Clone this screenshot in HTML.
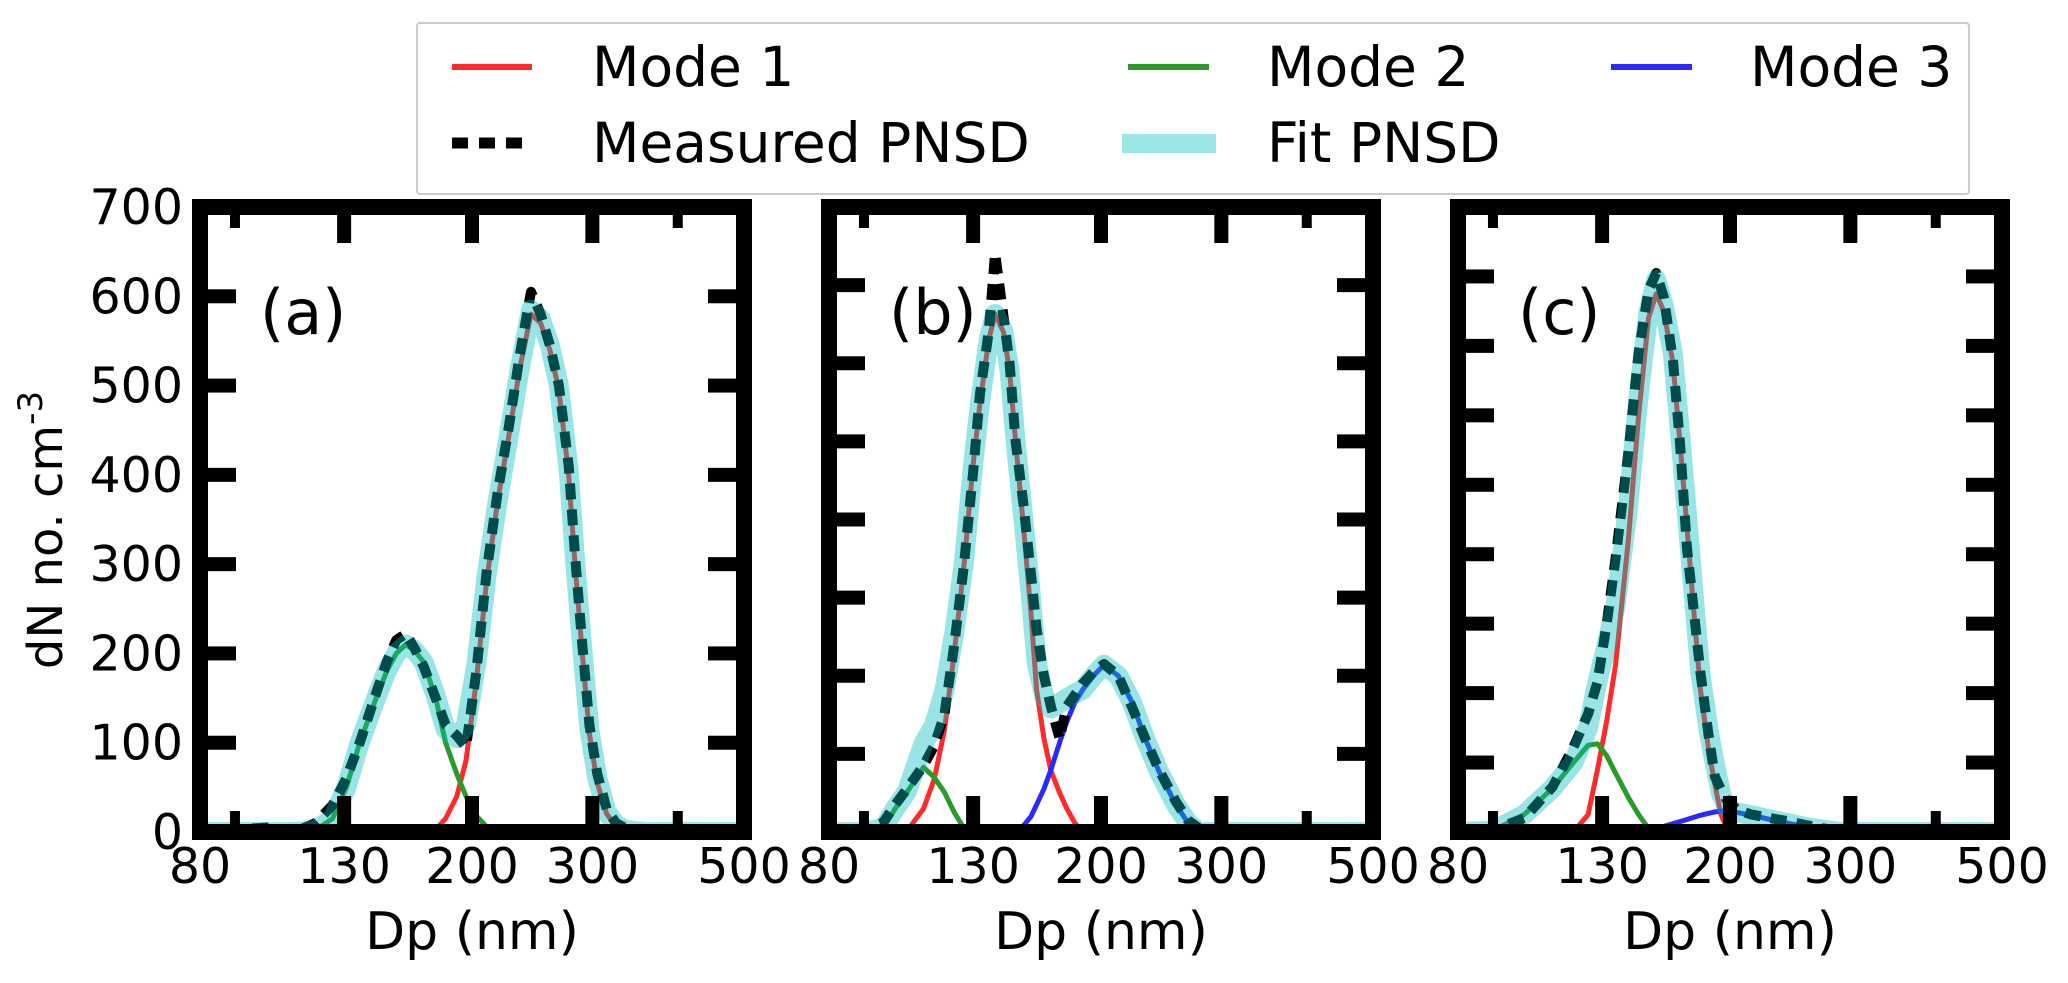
<!DOCTYPE html>
<html><head><meta charset="utf-8"><style>
html,body{margin:0;padding:0;background:#fff;}
svg{display:block;font-family:"DejaVu Sans","Liberation Sans",sans-serif;}
</style></head><body>
<svg id="chart" width="2068" height="983" viewBox="0 0 2068 983" xmlns="http://www.w3.org/2000/svg">
<rect x="0" y="0" width="2068" height="983" fill="#fff"/>
<g id="legend">
  <rect x="417" y="23" width="1552" height="171" fill="#fff" stroke="#cccccc" stroke-width="2" rx="3"/>
  <g>
    <line x1="452" y1="67" x2="532" y2="67" stroke="#ff2a2a" stroke-width="6"/>
    <text x="592" y="86" font-size="55">Mode 1</text>
  </g>
  <g>
    <line x1="1128" y1="67" x2="1209" y2="67" stroke="#2a9a2a" stroke-width="6"/>
    <text x="1267" y="86" font-size="55">Mode 2</text>
  </g>
  <g>
    <line x1="1611" y1="67" x2="1692" y2="67" stroke="#2a2aff" stroke-width="6"/>
    <text x="1750" y="86" font-size="55">Mode 3</text>
  </g>
  <g>
    <line x1="452" y1="143" x2="532" y2="143" stroke="#000" stroke-width="11" stroke-dasharray="16 11"/>
    <text x="592" y="162" font-size="55">Measured PNSD</text>
  </g>
  <g>
    <rect x="1122" y="134" width="94" height="19" fill="#9be6e6"/>
    <text x="1267" y="162" font-size="55">Fit PNSD</text>
  </g>
</g>
<text transform="translate(62,530) rotate(-90)" text-anchor="middle" font-size="48">dN no. cm<tspan font-size="34" dy="-20">-3</tspan></text>
<g id="panels"></g>
</svg>
<script>
// ---- data (panel a) ----
const dpA = [80,100,110,118,125,131,137,144,150,155,160,165,170,177,183,190,196,203,210,218,226,235,244,252,260,268,277,283,290,297,305,315,325,336,360,400,500];
const mode1A = [0,0,0,0,0,0,0,0,0,0,0,0,0,3,15,40,80,170,280,370,440,520,580,570,540,495,400,300,200,110,55,20,6,0,0,0,0];
const mode2A = [0,0,0,2,15,50,100,145,180,200,210,203,190,150,100,65,40,18,6,0,0,0,0,0,0,0,0,0,0,0,0,0,0,0,0,0,0];
const fitA = [0,0,0,2,15,50,100,145,180,200,210,203,190,153,115,105,120,188,286,370,440,520,585,575,545,500,405,305,205,115,60,22,8,2,0,0,0];
const measA = [0,5,0,10,30,60,100,150,190,215,222,205,185,150,120,108,95,180,290,380,450,535,605,580,545,500,410,310,210,120,65,25,10,4,0,0,0];
// ---- data (panel b) ----
const dpB = [80,90,96,100,104,110,114,118,122,126,130,133,137,140,144,147,150,154,158,161,165,169,174,178,183,188,195,202,212,222,232,243,257,268,278,290,350,500];
const mode1B = [0,0,0,0,1,30,67,130,230,339,470,548,630,663,640,590,500,392,280,182,120,78,50,31,12,0,0,0,0,0,0,0,0,0,0,0,0,0];
const mode2B = [0,0,5,30,51,83,70,51,25,5,0,0,0,0,0,0,0,0,0,0,0,0,0,0,0,0,0,0,0,0,0,0,0,0,0,0,0,0];
const mode3B = [0,0,0,0,0,0,0,0,0,0,0,0,0,0,0,0,0,8,20,35,55,80,115,140,165,182,200,214,200,166,120,78,36,12,0,0,0,0];
const fitB = [0,0,5,30,52,113,137,181,255,344,470,548,630,663,640,590,500,400,300,217,175,158,165,171,177,182,200,214,200,166,120,78,36,12,0,0,0,0];
const measB = [0,3,12,35,55,85,110,150,240,340,460,560,640,741,660,600,500,420,330,260,200,160,119,160,175,190,205,215,200,160,120,80,40,15,5,0,0,0];
// ---- data (panel c) ----
const dpC = [80,90,100,110,118,124,128,132,136,142,147,152,156,160,165,169,173,177,181,186,190,194,198,205,215,229,245,258,275,290,350,500];
const mode1C = [0,0,0,0,0,25,90,160,240,420,600,740,775,750,676,560,440,320,205,120,69,25,5,0,0,0,0,0,0,0,0,0];
const mode2C = [0,2,25,63,100,125,127,110,85,50,25,5,0,0,0,0,0,0,0,0,0,0,0,0,0,0,0,0,0,0,0,0];
const mode3C = [0,0,0,0,0,0,0,0,0,0,2,4,6,8,12,15,18,21,24,27,29,30,30,28,24,18,12,7,3,0,0,0];
const fitC = [0,2,25,63,100,150,217,270,325,470,627,749,795,758,688,575,458,341,229,147,98,55,35,28,24,18,12,7,3,0,0,0];
const measC = [0,3,20,65,122,170,216,300,393,546,690,780,805,770,680,560,410,320,230,140,80,61,45,32,25,20,15,10,5,0,0,0];
// ---- axes config ----
const xTickVals = [80,130,200,300,500];
const xMinorVals = [90,400];
const yMaxA = 700, yMaxB = 800, yMaxC = 900;
const yTickLabelsA = [0,100,200,300,400,500,600,700];
const panelLabels = ['(a)','(b)','(c)'];

const NS = 'http://www.w3.org/2000/svg';
const root = document.getElementById('panels');
function mk(tag, attrs, parent){ const e=document.createElementNS(NS,tag); for(const k in attrs) e.setAttribute(k,attrs[k]); (parent||root).appendChild(e); return e; }

const panels = [
  {L:200, dp:dpA, m1:mode1A, m2:mode2A, m3:null, fit:fitA, meas:measA, ymax:yMaxA, name:'a'},
  {L:829, dp:dpB, m1:mode1B, m2:mode2B, m3:mode3B, fit:fitB, meas:measB, ymax:yMaxB, name:'b'},
  {L:1458, dp:dpC, m1:mode1C, m2:mode2C, m3:mode3C, fit:fitC, meas:measC, ymax:yMaxC, name:'c'}
];
const W = 544, T = 207, B = 832;

panels.forEach((p, pi) => {
  const g = mk('g', {});
  
  
  const xs = v => p.L + W * Math.log(v/80) / Math.log(500/80);
  const ys = v => B - (B - T) * v / p.ymax;
  const cid = 'clip' + pi;
  const cp = mk('clipPath', {id: cid}, g);
  mk('rect', {x: p.L, y: T, width: W, height: B - T}, cp);
  const plot = mk('g', {'clip-path': 'url(#' + cid + ')'}, g);
  function path(vals, stroke, sw, extra, name){
    const d = p.dp.map((x,i) => (i ? 'L' : 'M') + xs(x).toFixed(1) + ' ' + ys(vals[i]).toFixed(1)).join(' ');
    const e = mk('path', Object.assign({d: d, fill: 'none', stroke: stroke, 'stroke-width': sw, 'stroke-linejoin': 'round'}, extra || {}), plot);
    
    
  }
  path(p.m1, '#ff2a2a', 5, null, 'mode-1-line-' + p.name);
  path(p.m2, '#2a9a2a', 5, null, 'mode-2-line-' + p.name);
  if (p.m3) path(p.m3, '#2a2aff', 5, null, 'mode-3-line-' + p.name);
  path(p.meas, '#000', 10, {'stroke-dasharray': '16 10'}, 'measured-pnsd-line-' + p.name);
  path(p.fit, 'rgba(0,190,190,0.4)', 20, {'stroke-linecap': 'round'}, 'fit-pnsd-line-' + p.name);
  for (let v = 100; v < p.ymax; v += 100) {
    const y = ys(v);
    mk('rect', {x: p.L + 8, y: y - 7, width: 28, height: 14, fill: '#000'}, g);
    mk('rect', {x: p.L + W - 36, y: y - 7, width: 28, height: 14, fill: '#000'}, g);
  }
  xTickVals.slice(1, -1).forEach(v => {
    const x = xs(v);
    mk('rect', {x: x - 7, y: T + 8, width: 14, height: 28, fill: '#000'}, g);
    mk('rect', {x: x - 7, y: B - 36, width: 14, height: 28, fill: '#000'}, g);
  });
  xMinorVals.forEach(v => {
    const x = xs(v);
    mk('rect', {x: x - 5, y: T + 8, width: 10, height: 13, fill: '#000'}, g);
    mk('rect', {x: x - 5, y: B - 21, width: 10, height: 13, fill: '#000'}, g);
  });
  const sp = mk('rect', {x: p.L, y: T, width: W, height: B - T, fill: 'none', stroke: '#000', 'stroke-width': 16}, g);
  
  
  xTickVals.forEach(v => {
    const t = mk('text', {x: xs(v), y: 883, 'text-anchor': 'middle', 'font-size': 49}, g);
    
    
    t.textContent = v;
  });
  const xt = mk('text', {x: p.L + W/2, y: 949, 'text-anchor': 'middle', 'font-size': 52}, g);
  
  
  xt.textContent = 'Dp (nm)';
  const pl = mk('text', {x: p.L + 60, y: 334, 'font-size': 62}, g);
  
  
  pl.textContent = panelLabels[pi];
  if (pi === 0) {
    yTickLabelsA.forEach(v => {
      const t = mk('text', {x: 183, y: ys(v) + 17, 'text-anchor': 'end', 'font-size': 49}, g);
      
      
      t.textContent = v;
    });
  }
});
</script>
</body></html>
